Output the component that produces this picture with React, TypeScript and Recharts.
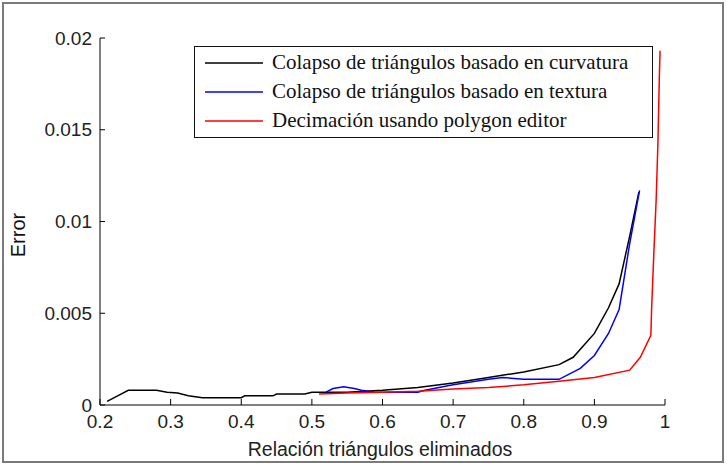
import { LineChart, Line, XAxis, YAxis, Legend, Label } from "recharts";

// Relación triángulos eliminados (x) vs Error (y)
const curvaturaX = [0.21, 0.225, 0.24, 0.26, 0.28, 0.295, 0.31, 0.325, 0.345, 0.37, 0.4, 0.405, 0.445, 0.45, 0.49, 0.5, 0.55, 0.6, 0.65, 0.7, 0.75, 0.8, 0.85, 0.87, 0.9, 0.92, 0.935, 0.95, 0.963];
const curvaturaY = [0.0002, 0.0005, 0.0008, 0.0008, 0.0008, 0.0007, 0.00065, 0.0005, 0.0004, 0.0004, 0.0004, 0.0005, 0.0005, 0.0006, 0.0006, 0.0007, 0.0007, 0.0008, 0.00095, 0.0012, 0.0015, 0.0018, 0.0022, 0.0026, 0.0039, 0.0053, 0.0066, 0.0092, 0.0116];

const texturaX = [0.52, 0.53, 0.545, 0.56, 0.57, 0.59, 0.62, 0.65, 0.66, 0.7, 0.75, 0.77, 0.8, 0.85, 0.865, 0.88, 0.9, 0.92, 0.935, 0.95, 0.964];
const texturaY = [0.0007, 0.0009, 0.001, 0.0009, 0.0008, 0.0007, 0.0007, 0.0007, 0.0008, 0.0011, 0.0014, 0.0015, 0.0014, 0.0014, 0.0017, 0.002, 0.0027, 0.0039, 0.0052, 0.0088, 0.0117];

const polygonX = [0.51, 0.55, 0.6, 0.65, 0.7, 0.75, 0.8, 0.85, 0.9, 0.95, 0.965, 0.98, 0.981, 0.984, 0.9875, 0.99, 0.992, 0.993];
const polygonY = [0.0006, 0.00065, 0.0007, 0.00075, 0.00087, 0.00095, 0.0011, 0.0013, 0.0015, 0.0019, 0.0026, 0.0038, 0.0052, 0.0081, 0.0112, 0.0143, 0.0179, 0.0193];

const xTicks = [0.2, 0.3, 0.4, 0.5, 0.6, 0.7, 0.8, 0.9, 1];
const xTickLabels = ["0.2", "0.3", "0.4", "0.5", "0.6", "0.7", "0.8", "0.9", "1"];
const yTicks = [0, 0.005, 0.01, 0.015, 0.02];
const yTickLabels = ["0", "0.005", "0.01", "0.015", "0.02"];

const seriesNames = [
  "Colapso de triángulos basado en curvatura",
  "Colapso de triángulos basado en textura",
  "Decimación usando polygon editor",
];
const seriesColors = ["#000000", "#0000ff", "#ff0000"];

const zip = (xs: number[], ys: number[]) => xs.map((x, i) => ({ x, y: ys[i] }));

const series = [zip(curvaturaX, curvaturaY), zip(texturaX, texturaY), zip(polygonX, polygonY)];

const sans = "'Liberation Sans', Arial, sans-serif";
const serif = "'Liberation Serif', 'Times New Roman', serif";

function LegendBox() {
  return (
    <div
      style={{
        border: "1.5px solid #111",
        background: "#fff",
        boxSizing: "border-box",
        width: 459,
        height: 92,
        padding: "1px 0 0 10px",
        fontFamily: serif,
        fontSize: 21,
        color: "#111",
      }}
    >
      {seriesNames.map((name, i) => (
        <div key={name} style={{ display: "flex", alignItems: "center", height: 29 }}>
          <svg width={58} height={4} style={{ marginRight: 9 }}>
            <line x1={0} y1={2} x2={58} y2={2} stroke={seriesColors[i]} strokeWidth={1.5} />
          </svg>
          <span>{name}</span>
        </div>
      ))}
    </div>
  );
}

export default function App() {
  return (
    <div style={{ position: "absolute", left: 0, top: 0, width: 727, height: 466, background: "#fff" }}>
      <div
        style={{
          position: "absolute",
          left: 2,
          top: 2,
          width: 722,
          height: 461,
          border: "2px solid #7a7a7a",
          boxSizing: "border-box",
        }}
      />
      <LineChart width={727} height={466} margin={{ top: 38, right: 62, left: 40, bottom: 31 }}>
        <XAxis
          dataKey="x"
          type="number"
          domain={[0.2, 1]}
          ticks={xTicks}
          tickFormatter={(v: number) => xTickLabels[xTicks.indexOf(v)] ?? String(v)}
          height={30}
          tickSize={-6}
          tickMargin={16}
          stroke="#000"
          tick={{ fill: "#222", fontSize: 19, fontFamily: sans }}
          allowDataOverflow
        >
          <Label
            content={() => (
              <text x={380} y={456} textAnchor="middle" fill="#222" fontSize={19.5} fontFamily={sans}>
                Relación triángulos eliminados
              </text>
            )}
          />
        </XAxis>
        <YAxis
          dataKey="y"
          type="number"
          domain={[0, 0.02]}
          ticks={yTicks}
          tickFormatter={(v: number) => yTickLabels[yTicks.indexOf(v)] ?? String(v)}
          width={60}
          tickSize={-5}
          tickMargin={13}
          stroke="#000"
          tick={{ fill: "#222", fontSize: 19, fontFamily: sans }}
          allowDataOverflow
        >
          <Label
            content={() => (
              <text
                x={25}
                y={235}
                transform="rotate(-90 25 235)"
                textAnchor="middle"
                fill="#111"
                fontSize={20}
                fontFamily={sans}
              >
                Error
              </text>
            )}
          />
        </YAxis>
        <Legend
          layout="vertical"
          align="center"
          verticalAlign="middle"
          content={() => <LegendBox />}
          wrapperStyle={{ top: 46, left: 194, width: 459, height: 92 }}
        />
        {series.map((data, i) => (
          <Line
            key={seriesNames[i]}
            data={data}
            dataKey="y"
            name={seriesNames[i]}
            type="linear"
            stroke={seriesColors[i]}
            strokeWidth={1.5}
            dot={false}
            activeDot={false}
            isAnimationActive={false}
          />
        ))}
      </LineChart>
    </div>
  );
}
